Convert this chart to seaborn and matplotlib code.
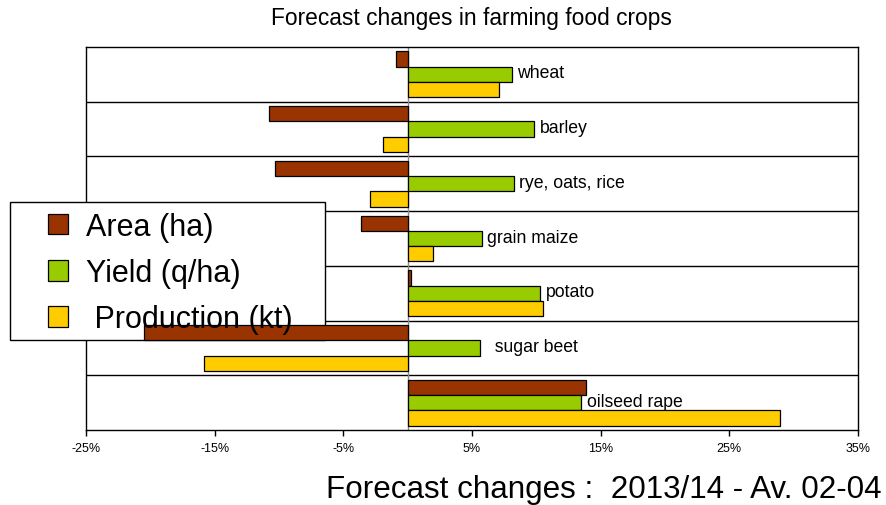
import pandas as pd
import matplotlib.pyplot as plt
import seaborn as sns
from matplotlib.patches import Rectangle
from matplotlib.ticker import FixedLocator

# data (percent change)
crops = ["wheat", "barley", "rye, oats, rice", "grain maize", "potato", "sugar beet", "oilseed rape"]
crop_labels = ["wheat", "barley", "rye, oats, rice", "grain maize", "potato", "  sugar beet", "oilseed rape"]
area = [-0.9, -10.8, -10.3, -3.6, 0.25, -20.5, 13.85]
yield_ = [8.1, 9.85, 8.25, 5.75, 10.3, 5.6, 13.5]
production = [7.1, -1.95, -2.95, 1.95, 10.55, -15.85, 28.95]
series = ["Area (ha)", "Yield (q/ha)", "Production (kt)"]
legend_labels = ["Area (ha)", "Yield (q/ha)", " Production (kt)"]
colors = ["#993300", "#99CC00", "#FFCC00"]
xticks = [-25, -15, -5, 5, 15, 25, 35]

df = pd.DataFrame({"crop": crops * 3,
                   "series": [series[0]] * 7 + [series[1]] * 7 + [series[2]] * 7,
                   "value": area + yield_ + production})

sns.set_style("white")
plt.rcParams["font.family"] = ["Liberation Sans", "DejaVu Sans"]
plt.rcParams["text.color"] = "black"
plt.rcParams["xtick.color"] = "black"

fig = plt.figure(figsize=(8.87, 5.06), dpi=100)
ax = fig.add_axes([86 / 887, 1 - 431 / 506, 772 / 887, 383 / 506])

sns.barplot(data=df, x="value", y="crop", hue="series", hue_order=series, order=crops,
            palette=colors, saturation=1, orient="h", width=0.84, gap=0,
            edgecolor="black", linewidth=0.9, ax=ax, zorder=4)

ax.set_xlim(-25, 35)
ax.set_ylim(len(crops) - 0.5, -0.5)
ax.axvline(0, color="#888888", lw=1, zorder=1)

# row separators
ax.yaxis.set_minor_locator(FixedLocator([i + 0.5 for i in range(len(crops) - 1)]))
ax.grid(which="minor", axis="y", color="black", lw=1)
ax.set_yticks([])
ax.set_ylabel("")
ax.set_xlabel("")

ax.set_xticks(xticks)
ax.set_xticklabels([f"{t}%" for t in xticks], fontsize=9)
ax.tick_params(axis="x", direction="out", length=4, width=1, color="black", bottom=True, pad=5)
for s in ax.spines.values():
    s.set_color("black")
    s.set_linewidth(1)

for i, lab in enumerate(crop_labels):
    ax.annotate(lab, xy=(yield_[i], i), xytext=(4, 1), textcoords="offset points",
                fontsize=12.7, va="center", ha="left", zorder=5)

fig.text(471 / 887, 1 - 18 / 506, "Forecast changes in farming food crops",
         fontsize=16.4, ha="center", va="center")

# legend: frame box drawn under the bars, entries on top
frame = Rectangle((10 / 887, 1 - 341 / 506), 315 / 887, 138 / 506, transform=fig.transFigure,
                  facecolor="white", edgecolor="black", lw=1, clip_on=False, zorder=3)
ax.add_patch(frame)
handles, _ = ax.get_legend_handles_labels()
leg = ax.legend(handles, legend_labels, loc="center left",
                bbox_to_anchor=(48 / 887, 1 - 274 / 506), bbox_transform=fig.transFigure,
                fontsize=22, frameon=False, handlelength=0.66, handleheight=0.66,
                handletextpad=0.6, labelspacing=0.53, borderpad=0, borderaxespad=0)
leg.set_zorder(5)

fig.text(882 / 887, 1 - 490 / 506, "Forecast changes :  2013/14 - Av. 02-04",
         fontsize=22.6, ha="right", va="center")

fig.savefig("out.png", dpi=100)
